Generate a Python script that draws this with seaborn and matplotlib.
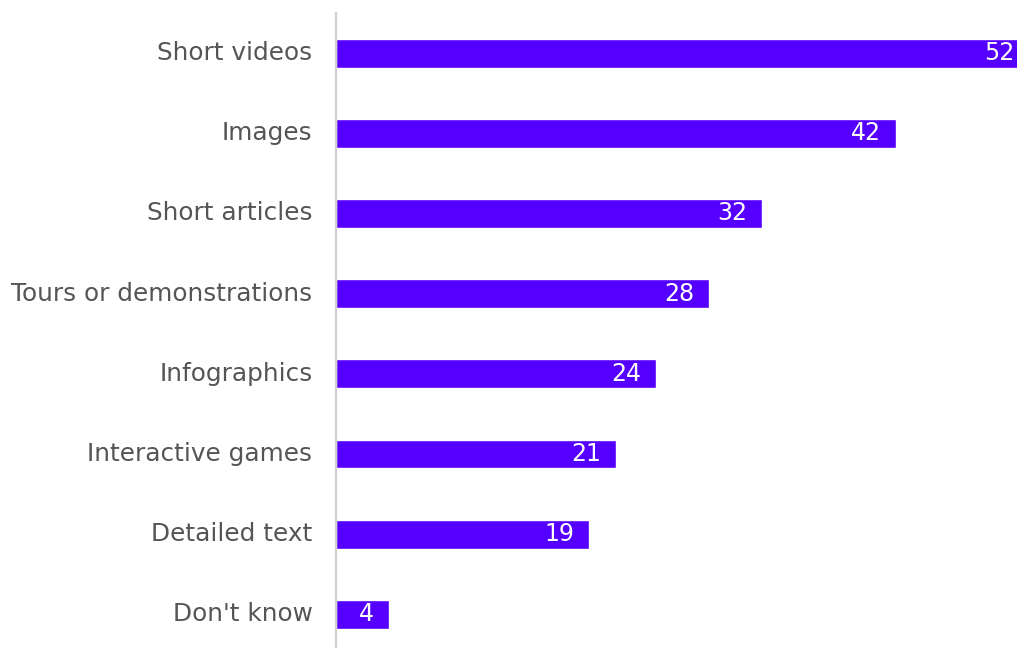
import matplotlib
matplotlib.use("Agg")
import matplotlib.pyplot as plt
import seaborn as sns
import pandas as pd

categories = ["Short videos", "Images", "Short articles", "Tours or demonstrations",
              "Infographics", "Interactive games", "Detailed text", "Don't know"]
values = [52, 42, 32, 28, 24, 21, 19, 4]

sns.set_theme(style="white")
plt.rcParams['font.family'] = ['DejaVu Sans']

df = pd.DataFrame({"category": categories, "value": values})

fig = plt.figure(figsize=(10.17, 6.48), dpi=100)
ax = fig.add_axes([336/1017, 0.0, 1 - 336/1017, 1 - 13/648])
sns.barplot(data=df, x="value", y="category", orient="h", color="#5500FF",
            saturation=1, width=0.36, ax=ax)

ax.set_xlim(0, 51.1)
ax.set_ylim(7.42, -0.5)
ax.set_xlabel("")
ax.set_ylabel("")
ax.set_xticks([])
for s in ["top", "right", "bottom"]:
    ax.spines[s].set_visible(False)
ax.spines["left"].set_color("#d0d0d0")
ax.spines["left"].set_linewidth(1.6)
ax.tick_params(axis="y", length=0, pad=17, labelsize=17.8, labelcolor="#555555")
for lbl in ax.get_yticklabels():
    lbl.set_verticalalignment("center")

for i, v in enumerate(values):
    ax.annotate(str(v), xy=(v, i), xytext=(-15, 0), textcoords="offset pixels",
                ha="right", va="center", color="white", fontsize=17,
                annotation_clip=False)

fig.savefig("out.png", dpi=100)
